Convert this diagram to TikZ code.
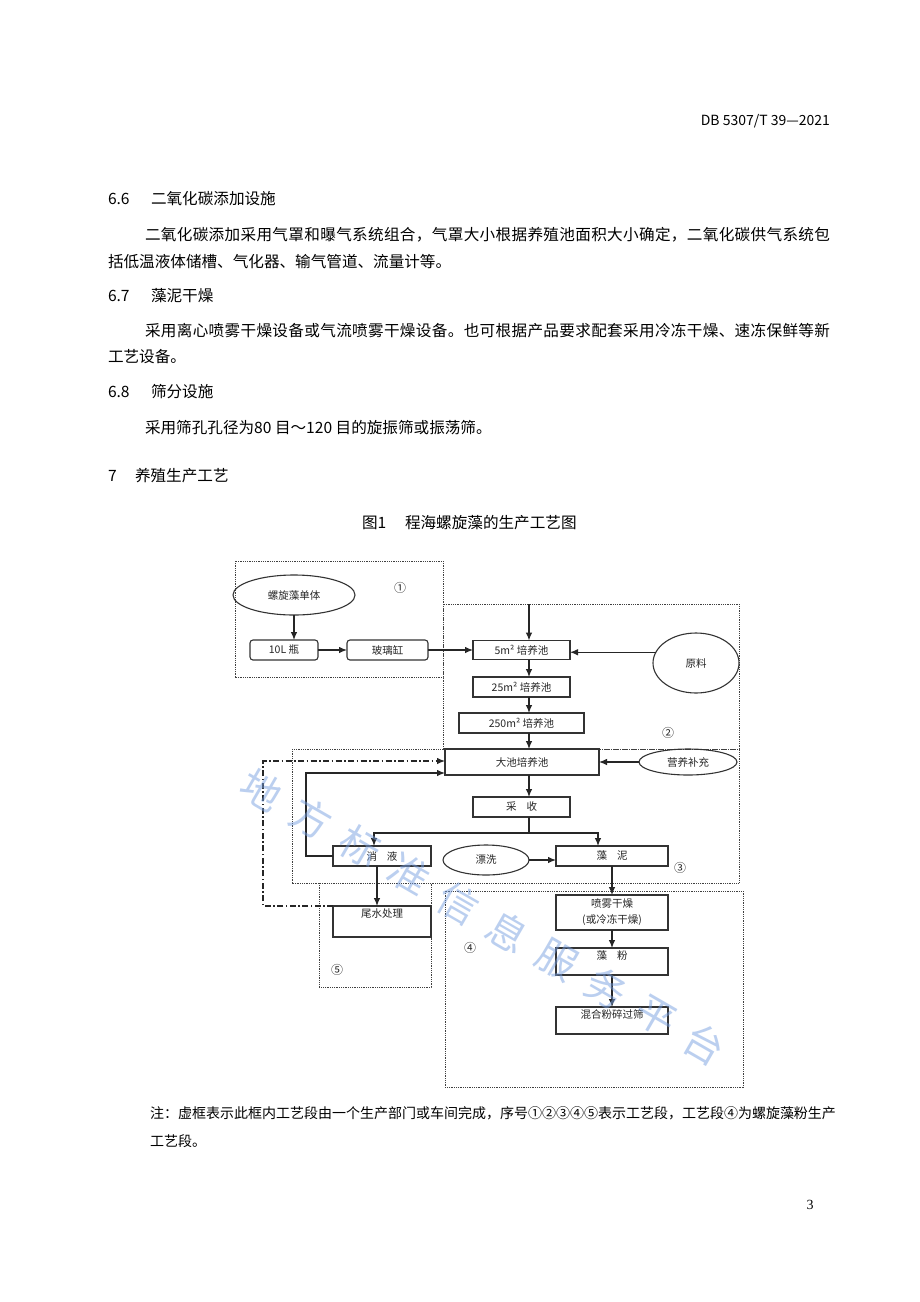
\documentclass[tikz,border=0pt]{standalone}
\usepackage{fontspec}
\setmainfont{Noto Sans CJK SC}
\newfontfamily\serifnum{Liberation Serif}
\usetikzlibrary{arrows.meta,shapes.geometric}
\definecolor{wmblue}{RGB}{120,160,225}
\makeatletter
\def\jl@end{jlend}
\def\jl@loop#1{\ifx#1\jl@end\else\hfill#1\expandafter\jl@loop\fi}
\def\jl@first#1{#1\jl@loop}
\newcommand\jline[2]{\hbox to #1{\jl@first#2\jl@end}}
\makeatother
\newcommand\dfont{\fontsize{10.5}{13}\selectfont}
\begin{document}
\begin{tikzpicture}[x=1pt,y=-1pt,
  every node/.style={inner sep=0pt,outer sep=0pt},
  body/.style={anchor=west,font=\fontsize{15.6}{18}\selectfont},
  note/.style={anchor=west,font=\fontsize{14}{16}\selectfont},
  proc/.style={draw=black!80,line width=1.1pt,rectangle,font=\dfont,text=black!85,inner sep=1pt},
  rproc/.style={proc,rounded corners=3pt},
  ell/.style={draw=black!80,line width=1.1pt,ellipse,font=\dfont,text=black!85,inner sep=1pt},
  inlab/.style={anchor=north,yshift=-2pt,inner sep=1pt,font=\dfont,text=black!85},
  region/.style={draw=black!75,line width=0.9pt,dash pattern=on 0.9pt off 0.9pt},
  arr/.style={draw=black!85,line width=1.1pt,-{Latex[length=8pt,width=6.5pt]}},
  plainline/.style={draw=black!85,line width=1.1pt},
  dashdot/.style={dash pattern=on 6pt off 2.5pt on 1.5pt off 2.5pt},
  seglab/.style={font=\fontsize{12}{12}\selectfont,text=black!85},
  wm/.style={rotate=-30,font=\fontsize{40}{40}\selectfont,text=wmblue,opacity=0.5}
]
\fill[white] (0,0) rectangle (920,1302);
\useasboundingbox (0,0) rectangle (920,1302);

% header and body text
\node[anchor=east,font=\fontsize{14}{16}\selectfont] (hdr) at (830,121) {DB 5307/T 39—2021};
\node[body] (h66a) at (108,199) {6.6};
\node[body] (h66b) at (151,199) {二氧化碳添加设施};
\node[body] (p66a) at (145,235) {\jline{685pt}{二氧化碳添加采用气罩和曝气系统组合，气罩大小根据养殖池面积大小确定，二氧化碳供气系统包}};
\node[body] (p66b) at (108,262) {括低温液体储槽、气化器、输气管道、流量计等。};
\node[body] (h67a) at (108,296) {6.7};
\node[body] (h67b) at (151,296) {藻泥干燥};
\node[body] (p67a) at (145,331) {\jline{685pt}{采用离心喷雾干燥设备或气流喷雾干燥设备。也可根据产品要求配套采用冷冻干燥、速冻保鲜等新}};
\node[body] (p67b) at (108,357) {工艺设备。};
\node[body] (h68a) at (108,392) {6.8};
\node[body] (h68b) at (151,392) {筛分设施};
\node[body] (p68) at (145,428) {采用筛孔孔径为80 目～120 目的旋振筛或振荡筛。};
\node[body] (h7a) at (108,476) {7};
\node[body] (h7b) at (135,476) {养殖生产工艺};
\node[body] (cap1) at (362,523) {图1};
\node[body] (cap2) at (405,523) {程海螺旋藻的生产工艺图};
\node[note] (n1) at (150,1113) {\jline{682pt}{注：虚框表示此框内工艺段由一个生产部门或车间完成，序号①②③④⑤表示工艺段，工艺段④为螺旋藻粉生产}};
\node[note] (n2) at (150,1141) {工艺段。};
\node[font=\serifnum\fontsize{14}{16}\selectfont] (pg) at (810,1205) {3};

% dotted regions
\draw[region] (235,561) rectangle (443,677);
\draw[region] (443,604) rectangle (739,749);
\draw[region] (292,749) rectangle (739,883);
\draw[region] (319,883) rectangle (431,987);
\draw[region] (445,891) rectangle (743,1087);

% region labels
\node[seglab] (s1) at (400,588) {①};
\node[seglab] (s2) at (668,733) {②};
\node[seglab] (s3) at (680,868) {③};
\node[seglab] (s4) at (470,948) {④};
\node[seglab] (s5) at (337,970) {⑤};

% process nodes
\node[ell,minimum width=122pt,minimum height=40pt] (luo) at (294,595) {螺旋藻单体};
\node[rproc,minimum width=68pt,minimum height=20pt] (b10) at (284,650) {10L 瓶};
\node[rproc,minimum width=81pt,minimum height=20pt] (glass) at (387.5,650) {玻璃缸};
\node[proc,minimum width=97pt,minimum height=19pt] (p5) at (521.5,650) {5m² 培养池};
\node[ell,minimum width=86pt,minimum height=60pt] (yl) at (696,663) {原料};
\node[proc,minimum width=97pt,minimum height=20pt] (p25) at (521.5,687) {25m² 培养池};
\node[proc,minimum width=125pt,minimum height=20pt] (p250) at (521.5,723) {250m² 培养池};
\node[proc,minimum width=154pt,minimum height=26pt] (dc) at (522,762) {大池培养池};
\node[ell,minimum width=98pt,minimum height=26pt] (yy) at (688,762) {营养补充};
\node[proc,minimum width=97pt,minimum height=20pt] (cs) at (521.5,807) {采\hspace{10pt}收};
\node[proc,minimum width=98pt,minimum height=20pt] (xy) at (382,856) {消\hspace{10pt}液};
\node[proc,minimum width=112pt,minimum height=20pt] (zn) at (612,856) {藻\hspace{10pt}泥};
\node[ell,minimum width=86pt,minimum height=30pt] (px) at (486,860) {漂洗};
\node[proc,minimum width=98pt,minimum height=31pt,label={[inlab]north:尾水处理}] (ws) at (382,921.5) {};
\node[proc,minimum width=112pt,minimum height=35pt,align=center,font=\fontsize{10.5}{16}\selectfont] (pw) at (612,912.5) {喷雾干燥\\(或冷冻干燥)};
\node[proc,minimum width=112pt,minimum height=27pt,label={[inlab]north:藻\hspace{10pt}粉}] (zf) at (612,961.5) {};
\node[proc,minimum width=112pt,minimum height=27pt,label={[inlab]north:混合粉碎过筛}] (hh) at (612,1020.5) {};

% connectors
\coordinate (ax) at (529,0);
\coordinate (top2) at (529,604);
\coordinate (split) at (529,833);
\coordinate (sl) at (374,833);
\coordinate (sr) at (598,833);
\coordinate (wx) at (377,0);
\coordinate (fb1) at (306,773);
\coordinate (fb2) at (263,761);

\draw[arr] (luo.south) -- (luo.south |- b10.north);
\draw[arr] (b10.east) -- (glass.west);
\draw[arr] (glass.east) -- (p5.west);
\draw[arr] (top2) -- (top2 |- p5.north);
\draw[arr] (yl.165) -- (yl.165 -| p5.east);
\draw[arr] (p5.south -| ax) -- (p25.north -| ax);
\draw[arr] (p25.south -| ax) -- (p250.north -| ax);
\draw[arr] (p250.south -| ax) -- (dc.north -| ax);
\draw[arr] (yy.west) -- (dc.east);
\draw[arr] (dc.south -| ax) -- (cs.north -| ax);
\draw[plainline] (cs.south -| ax) -- (split);
\draw[arr] (split) -- (sl) -- (sl |- xy.north);
\draw[arr] (split) -- (sr) -- (sr |- zn.north);
\draw[arr] (px.east) -- (px.east -| zn.west);
\draw[arr] (xy.south -| wx) -- (ws.north -| wx);
\draw[arr] (zn.south) -- (pw.north);
\draw[arr] (pw.south) -- (zf.north);
\draw[arr] (zf.south) -- (hh.north);
\draw[arr] (xy.west) -| (fb1) -- (fb1 -| dc.west);
\draw[arr,dashdot] (ws.north west) -| (fb2) -- (fb2 -| dc.west);

% watermark
\foreach \i/\c in {0/地,1/方,2/标,3/准,4/信,5/息,6/服,7/务,8/平,9/台}
  \node[wm] (wm\i) at ({262+49.2*\i},{790+28.3*\i}) {\c};
\end{tikzpicture}
\end{document}
